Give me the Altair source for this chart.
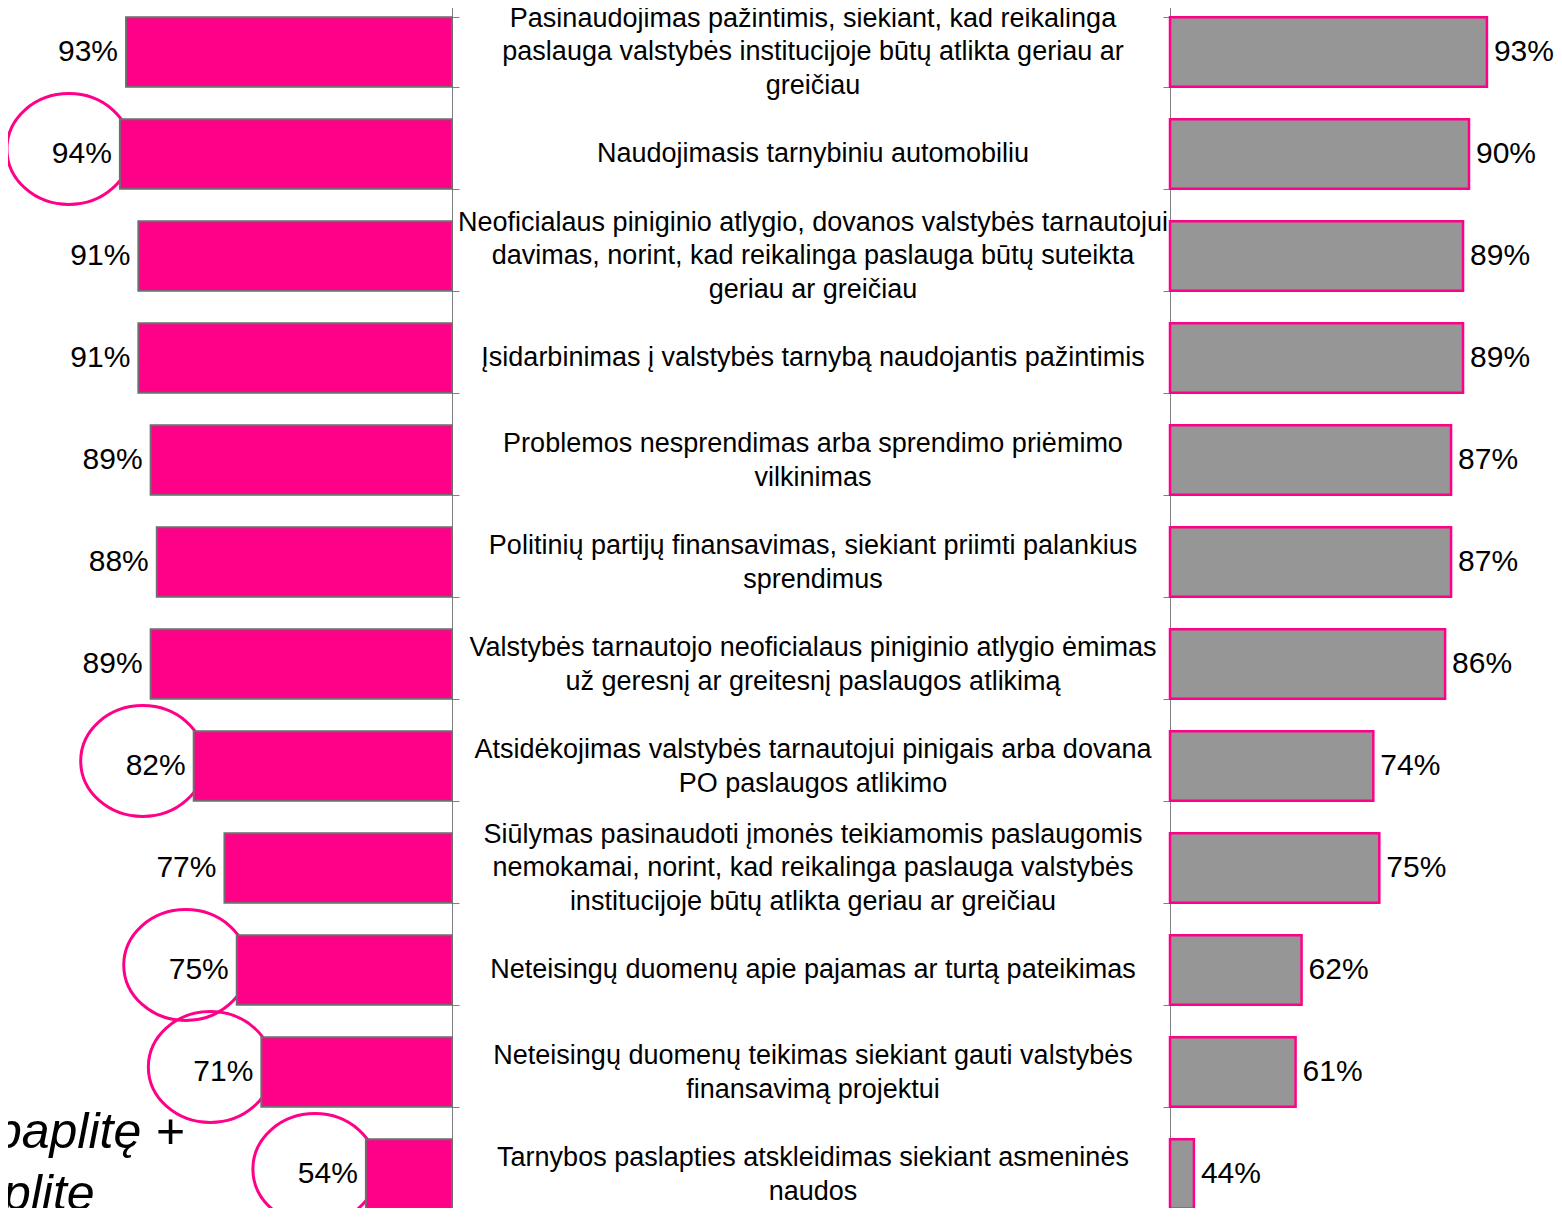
import altair as alt
import pandas as pd

# ---------------- data ----------------
categories = [
    "Pasinaudojimas pažintimis, siekiant, kad reikalinga\npaslauga valstybės institucijoje būtų atlikta geriau ar\ngreičiau",
    "Naudojimasis tarnybiniu automobiliu",
    "Neoficialaus piniginio atlygio, dovanos valstybės tarnautojui\ndavimas, norint, kad reikalinga paslauga būtų suteikta\ngeriau ar greičiau",
    "Įsidarbinimas į valstybės tarnybą naudojantis pažintimis",
    "Problemos nesprendimas arba sprendimo priėmimo\nvilkinimas",
    "Politinių partijų finansavimas, siekiant priimti palankius\nsprendimus",
    "Valstybės tarnautojo neoficialaus piniginio atlygio ėmimas\nuž geresnį ar greitesnį paslaugos atlikimą",
    "Atsidėkojimas valstybės tarnautojui pinigais arba dovana\nPO paslaugos atlikimo",
    "Siūlymas pasinaudoti įmonės teikiamomis paslaugomis\nnemokamai, norint, kad reikalinga paslauga valstybės\ninstitucijoje būtų atlikta geriau ar greičiau",
    "Neteisingų duomenų apie pajamas ar turtą pateikimas",
    "Neteisingų duomenų teikimas siekiant gauti valstybės\nfinansavimą projektui",
    "Tarnybos paslapties atskleidimas siekiant asmeninės\nnaudos",
]
left_values = [93, 94, 91, 91, 89, 88, 89, 82, 77, 75, 71, 54]
right_values = [93, 90, 89, 89, 87, 87, 86, 74, 75, 62, 61, 44]
circled = [False, True, False, False, False, False, False, True, False, True, True, True]
legend_lines = ["Labai paplitę +", "paplitę"]

# ---------------- styling ----------------
PINK = "#FF0088"
GRAY_FILL = "#969696"
BORDER = "#6E6E6E"
AXIS_GRAY = "#808080"
FONT = "Liberation Sans"
W, H = 1546, 1200
LEFT_AXIS_X = 444
RIGHT_AXIS_X = 1162
TEXT_CENTER_X = 805
LINE_H = 33.5
ELLIPSE = "M -1 0 A 1 0.895 0 1 1 1 0 A 1 0.895 0 1 1 -1 0 Z"

df = pd.DataFrame({
    "cat": categories,
    "left": left_values,
    "right": right_values,
    "circled": circled,
})
df["left_label"] = df["left"].astype(str) + "%"
df["right_label"] = df["right"].astype(str) + "%"

y_scale = alt.Scale(domain=categories, range=[-7, 1217], paddingInner=0.32, paddingOuter=0.16)
xL_scale = alt.Scale(domain=[40, 100], range=[LEFT_AXIS_X, LEFT_AXIS_X - 60 * 6.15], zero=False, nice=False)
xR_scale = alt.Scale(domain=[40, 100], range=[RIGHT_AXIS_X, RIGHT_AXIS_X + 60 * 5.98], zero=False, nice=False)


def y_enc(axis=None):
    return alt.Y("cat:N", scale=y_scale, title=None, axis=axis, sort=None)


left_axis = alt.Axis(
    orient="right", offset=LEFT_AXIS_X - W, title=None, grid=False,
    domain=True, domainColor=AXIS_GRAY, domainWidth=1,
    ticks=True, tickColor=AXIS_GRAY, tickSize=7, tickBand="extent",
    labels=False,
)
right_axis = alt.Axis(
    orient="left", offset=-RIGHT_AXIS_X, title=None, grid=False,
    domain=True, domainColor=AXIS_GRAY, domainWidth=1,
    ticks=True, tickColor=AXIS_GRAY, tickSize=7, tickBand="extent",
    labels=False,
)

base = alt.Chart(df)

ellipses = base.transform_filter("datum.circled").mark_point(
    shape=ELLIPSE, filled=False, stroke=PINK, color=PINK, strokeWidth=3,
    size=124 * 124, opacity=1, xOffset=-51, yOffset=-5,
).encode(
    x=alt.X("left:Q", scale=xL_scale, axis=None),
    y=y_enc(),
)

left_bars = base.mark_bar(color=PINK, stroke=BORDER, strokeWidth=2).encode(
    x=alt.X("left:Q", scale=xL_scale, axis=None),
    x2=alt.datum(40),
    y=y_enc(left_axis),
)

left_text = base.mark_text(
    align="right", baseline="middle", dx=-8, font=FONT, fontSize=30, color="black"
).encode(
    x=alt.X("left:Q", scale=xL_scale, axis=None),
    y=y_enc(),
    text="left_label:N",
)

right_bars = base.mark_bar(color=GRAY_FILL, stroke=PINK, strokeWidth=2.5).encode(
    x=alt.X("right:Q", scale=xR_scale, axis=None),
    x2=alt.datum(40),
    y=y_enc(right_axis),
)

right_text = base.mark_text(
    align="left", baseline="middle", dx=7, font=FONT, fontSize=30, color="black"
).encode(
    x=alt.X("right:Q", scale=xR_scale, axis=None),
    y=y_enc(),
    text="right_label:N",
)


def category_layer(n_lines):
    return base.transform_calculate(
        nlines="length(split(datum.cat, '\\n'))"
    ).transform_filter(
        f"datum.nlines == {n_lines}"
    ).mark_text(
        align="center", baseline="middle", lineBreak="\n", lineHeight=LINE_H,
        dy=-(n_lines - 1) * LINE_H / 2 + (1 if n_lines == 2 else 0),
        font=FONT, fontSize=27, color="black",
    ).encode(
        x=alt.value(TEXT_CENTER_X),
        y=y_enc(),
        text="cat:N",
    )


legend_text = alt.Chart(pd.DataFrame({"k": [0]})).mark_text(
    text=legend_lines, font=FONT, fontSize=50, fontStyle="italic", align="center",
    baseline="alphabetic", lineHeight=62, color="black",
).encode(x=alt.value(13), y=alt.value(1140))

chart = alt.layer(
    ellipses, left_bars, left_text, right_bars, right_text,
    category_layer(1), category_layer(2), category_layer(3), legend_text,
).resolve_scale(
    x="independent", y="independent"
).resolve_axis(
    x="independent", y="independent"
).properties(
    width=W, height=H, padding=0,
    autosize=alt.AutoSizeParams(type="none"),
).configure_view(stroke=None)

chart.save("out.html", embed_options={"renderer": "svg", "actions": False})
